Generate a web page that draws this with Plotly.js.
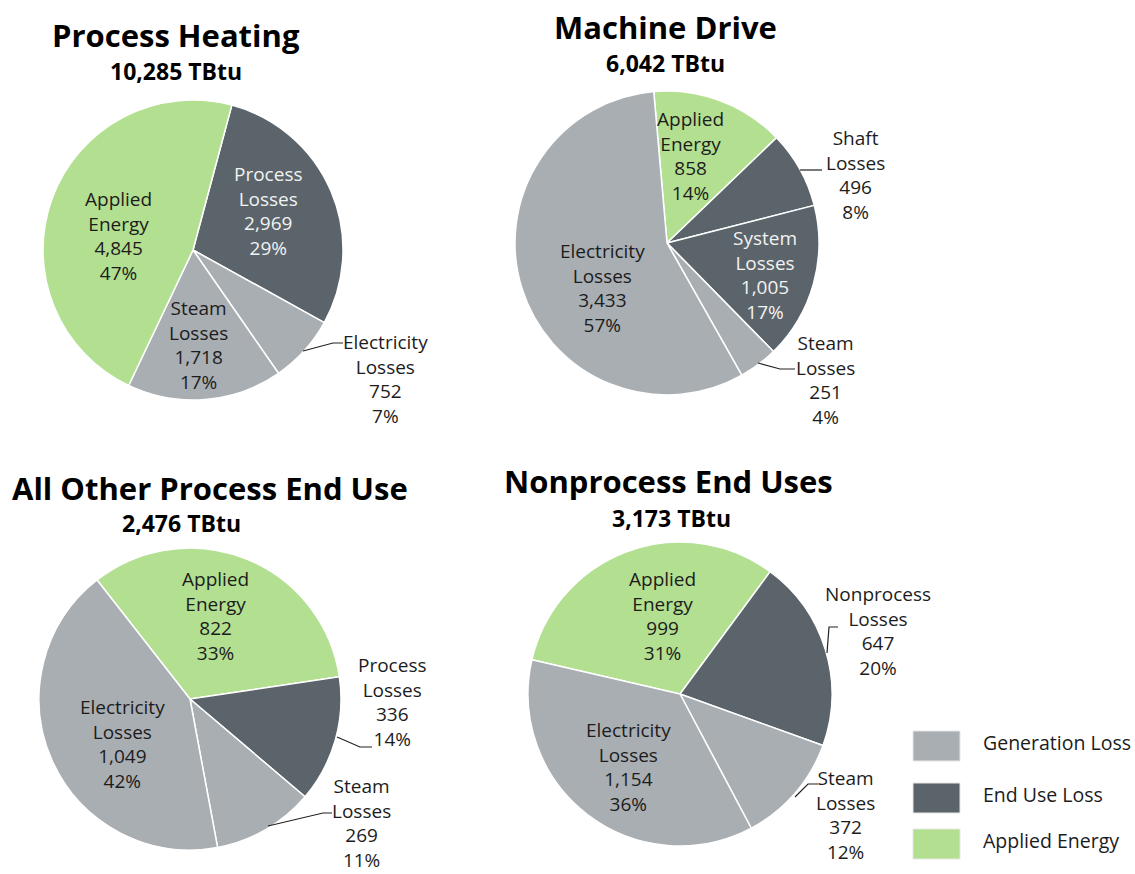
<!DOCTYPE html>
<html>
<head>
<meta charset="utf-8">
<script src="https://cdn.plot.ly/plotly-3.0.1.min.js"></script>
<style>
body{margin:0;background:#fff;}
#graph{width:1135px;height:874px;}
</style>
</head>
<body>
<div id="graph"></div>
<script>
// slice data, listed clockwise from each pie's start angle
let heatNames = ['Process Losses','Electricity Losses','Steam Losses','Applied Energy'];
let heatValues = [2969,752,1718,4845];
let heatPct = [29,7,17,47];
let heatKind = ['end','gen','gen','app'];

let driveNames = ['Applied Energy','Shaft Losses','System Losses','Steam Losses','Electricity Losses'];
let driveValues = [858,496,1005,251,3433];
let drivePct = [14,8,17,4,57];
let driveKind = ['app','end','end','gen','gen'];

let otherNames = ['Applied Energy','Process Losses','Steam Losses','Electricity Losses'];
let otherValues = [822,336,269,1049];
let otherPct = [33,14,11,42];
let otherKind = ['app','end','gen','gen'];

let nonNames = ['Applied Energy','Nonprocess Losses','Steam Losses','Electricity Losses'];
let nonValues = [999,647,372,1154];
let nonPct = [31,20,12,36];
let nonKind = ['app','end','gen','gen'];

let pieTitles = ['Process Heating','Machine Drive','All Other Process End Use','Nonprocess End Uses'];
let pieTotals = ['10,285 TBtu','6,042 TBtu','2,476 TBtu','3,173 TBtu'];

let legendNames = ['Generation Loss','End Use Loss','Applied Energy'];
let legendKind = ['gen','end','app'];

const W = 1135, H = 874;
const colors = {gen:'#a9aeb3', end:'#5b646a', app:'#b3df90'};
const FONT = '"Open Sans", sans-serif';
const TXT = '#1c1c1c';

function px(x){ return x/W; }
function py(y){ return 1 - y/H; }
function dom(cx, cy, r){
    return {x:[px(cx-r), px(cx+r)], y:[py(cy+r), py(cy-r)]};
}

// pie geometry and label placement (pixels)
let pies = [
{
    names:heatNames, values:heatValues, pct:heatPct, kind:heatKind,
    cx:193, cy:250, r:150, rot:15,
    title:[176,35], total:[176,71],
    labels:[[268,211],[385,379],[198,345],[118,236]],
    white:[true,false,false,false],
    leaders:[null,[[303,351],[333,343],[343,343]],null,null]
},
{
    names:driveNames, values:driveValues, pct:drivePct, kind:driveKind,
    cx:667, cy:243, r:152, rot:-5,
    title:[665,27], total:[665,63],
    labels:[[690,156],[855,175],[765,275],[825,380],[602,288]],
    white:[false,false,true,false,false],
    leaders:[null,[[800,170],[822,170]],null,[[758,363],[780,369],[795,369]],null]
},
{
    names:otherNames, values:otherValues, pct:otherPct, kind:otherKind,
    cx:190, cy:699, r:151, rot:-38,
    title:[210,488], total:[181,523],
    labels:[[215,616],[392,702],[361,823],[122,744]],
    white:[false,false,false,false],
    leaders:[null,[[337,737],[360,747],[372,747]],[[268,826],[323,813],[332,813]],null]
},
{
    names:nonNames, values:nonValues, pct:nonPct, kind:nonKind,
    cx:680, cy:694, r:152, rot:-77,
    title:[668,481], total:[671,518],
    labels:[[662,616],[878,631],[845,815],[628,767]],
    white:[false,false,false,false],
    leaders:[null,[[827,653],[829,627],[838,627]],[[795,797],[808,784],[818,784]],null]
}
];

let traces = [];
let annotations = [];
let shapes = [];

pies.forEach(function(p, k){

    traces.push({
        type:'pie',
        values:p.values,
        labels:p.names,
        sort:false,
        direction:'clockwise',
        rotation:p.rot,
        textinfo:'none',
        hoverinfo:'label+value+percent',
        domain:dom(p.cx, p.cy, p.r),
        marker:{
            colors:p.kind.map(function(c){ return colors[c]; }),
            line:{color:'#ffffff', width:1.5}
        }
    });

    annotations.push({
        x:px(p.title[0]), y:py(p.title[1]), xref:'paper', yref:'paper',
        xanchor:'center', yanchor:'middle', showarrow:false,
        text:'<b>'+pieTitles[k]+'</b>',
        font:{family:FONT, size:31, color:'#000'}
    });
    annotations.push({
        x:px(p.total[0]), y:py(p.total[1]), xref:'paper', yref:'paper',
        xanchor:'center', yanchor:'middle', showarrow:false,
        text:'<b>'+pieTotals[k]+'</b>',
        font:{family:FONT, size:23, color:'#000'}
    });

    p.names.forEach(function(n, i){
        let words = n.split(' ');
        let txt = words.join('<br>') + '<br>' +
            p.values[i].toLocaleString('en-US') + '<br>' + p.pct[i] + '%';
        annotations.push({
            x:px(p.labels[i][0]), y:py(p.labels[i][1]), xref:'paper', yref:'paper',
            xanchor:'center', yanchor:'middle', showarrow:false,
            text:txt,
            font:{family:FONT, size:19, color:p.white[i] ? '#f2f2f2' : TXT}
        });

        let ld = p.leaders[i];
        if(ld){
            let path = ld.map(function(pt, j){
                return (j === 0 ? 'M ' : 'L ') + px(pt[0]) + ' ' + py(pt[1]);
            }).join(' ');
            shapes.push({
                type:'path', xref:'paper', yref:'paper', path:path,
                line:{color:'#222', width:1.2}
            });
        }
    });
});

// legend boxes
let legY = [746, 798, 844];
legendNames.forEach(function(n, i){
    shapes.push({
        type:'rect', xref:'paper', yref:'paper',
        x0:px(913), x1:px(960), y0:py(legY[i]-15), y1:py(legY[i]+15),
        fillcolor:colors[legendKind[i]], line:{color:'#e6e6e6', width:1}
    });
    annotations.push({
        x:px(981), y:py(legY[i]-4), xref:'paper', yref:'paper',
        xanchor:'left', yanchor:'middle', showarrow:false,
        text:n,
        font:{family:FONT, size:19.5, color:TXT}
    });
});

Plotly.newPlot('graph', traces, {
    width:W,
    height:H,
    margin:{l:0, r:0, t:0, b:0},
    paper_bgcolor:'#ffffff',
    showlegend:false,
    annotations:annotations,
    shapes:shapes
}, {displayModeBar:false});
</script>
</body>
</html>
